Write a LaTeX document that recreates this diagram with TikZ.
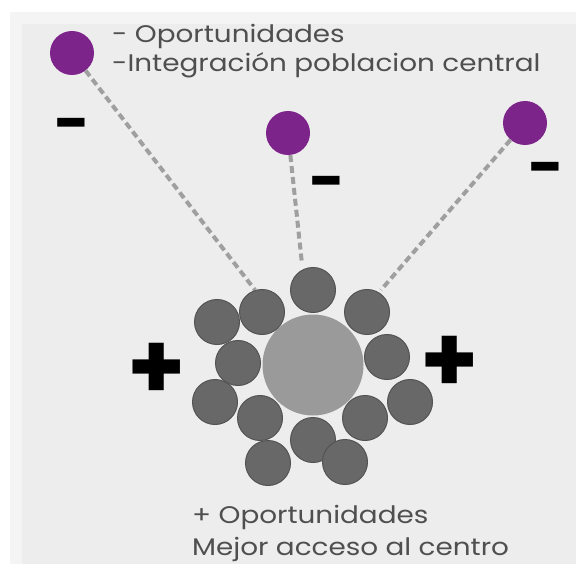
\documentclass[tikz,border=0pt]{standalone}
\usepackage{fontspec}
\setmainfont{Poppins}[FakeStretch=1.16]
\newfontfamily\signfont{Poppins}
\definecolor{panelbg}{HTML}{EDEDED}
\definecolor{panelrim}{HTML}{F4F4F4}
\definecolor{txtgray}{HTML}{4F4F4F}
\definecolor{coregray}{HTML}{9A9A9A}
\definecolor{housegray}{HTML}{686868}
\definecolor{ballpurple}{HTML}{7C2489}
\usetikzlibrary{positioning}

\begin{document}
\begin{tikzpicture}[x=1pt,y=-1pt,
  house/.style={circle,draw=housegray!80!black,fill=housegray,line width=1pt,
                minimum size=45pt,inner sep=0pt},
  core/.style={circle,fill=coregray,minimum size=101pt,inner sep=0pt},
  outer/.style={circle,fill=ballpurple,minimum size=44pt,inner sep=0pt},
  link/.style={line width=4pt,color=gray!75,dash pattern=on 7pt off 4pt},
  note/.style={font=\fontsize{24}{29}\selectfont,text=txtgray,anchor=base west,inner sep=0pt},
  sign/.style={font=\signfont\fontsize{93}{93}\selectfont\bfseries,text=black,inner sep=0pt},
  minus/.style={font=\signfont\fontsize{62}{62}\selectfont\bfseries,text=black,inner sep=0pt}
]
\useasboundingbox (0,0) rectangle (576,564);
\fill[white] (0,0) rectangle (576,564);
\fill[panelrim] (10,12) rectangle (576,564);
\fill[panelbg] (22,24) rectangle (576,564);

% outer households
\node[outer] (o1) at (72,53) {};
\node[outer] (o2) at (288,133) {};
\node[outer] (o3) at (525,123) {};

% centre
\node[core] (c) at (313,365) {};
\coordinate (t1) at (255,290);
\coordinate (t2) at (302,264);
\coordinate (t3) at (381,290);

\draw[link] (o1) -- (t1);
\draw[link] (o2) -- (t2);
\draw[link] (o3) -- (t3);

\foreach \px/\py [count=\i] in {313/290,217/322,262/312,367/312,387/357,238/363,
  215/402,410/402,260/418,365/418,313/440,268/463,345/462}
  \node[house] (h\i) at (\px,\py) {};

\node[sign] (pl) at (157,371) {+};
\node[sign] (pr) at (450,364) {+};
\node[minus] (m1) at (72,131) {-};
\node[minus] (m2) at (327,189) {-};
\node[minus] (m3) at (546,175) {-};

\node[note] (top1) at (112,43) {- Oportunidades};
\node[note] (top2) at (112,72) {-Integración poblacion central};
\node[note] (bot1) at (192,523) {+ Oportunidades};
\node[note] (bot2) at (192,555) {Mejor acceso al centro};
\end{tikzpicture}
\end{document}
